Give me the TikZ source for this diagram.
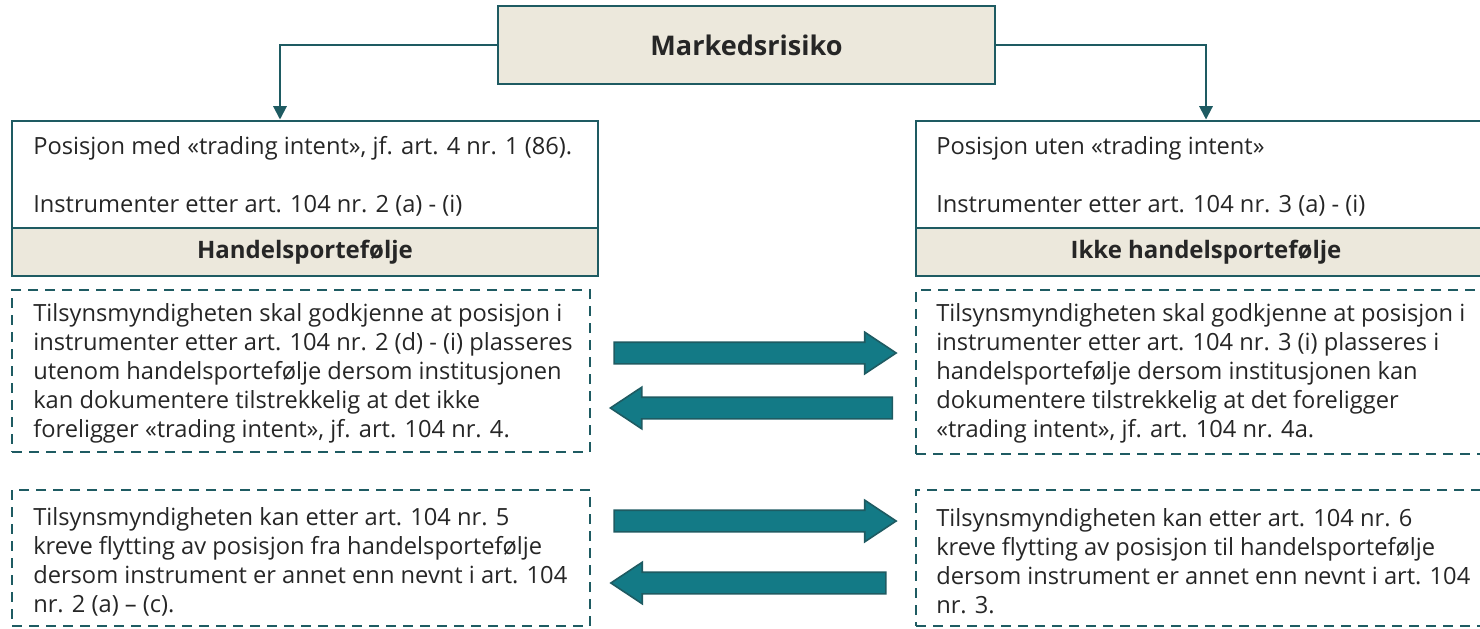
\documentclass[tikz,border=0pt]{standalone}
\usepackage{fontspec}
\setmainfont{Open Sans}
\usetikzlibrary{arrows.meta,shapes.arrows}
\definecolor{tealline}{HTML}{1E5B62}
\definecolor{tealfill}{HTML}{137A86}
\definecolor{paper}{HTML}{ECE8DC}
\definecolor{ink}{HTML}{262626}
\tikzstyle{conn} = [draw=tealline,line width=1.5pt,-{Triangle[width=10pt,length=10pt]}]

\begin{document}
\begin{tikzpicture}
[x=0.75pt,y=-0.75pt,
txt/.style={font=\fontsize{17.75}{21.75}\selectfont,text=ink,inner sep=0pt,align=left,anchor=west},
headbox/.style={shape=rectangle,draw=tealline,line width=1.5pt,fill=paper,text=ink,font=\fontsize{18}{21}\selectfont\bfseries},
plainbox/.style={shape=rectangle,draw=tealline,line width=1.5pt,fill=white},
rulebox/.style={shape=rectangle,draw=tealline,line width=1.8pt,dash pattern=on 7.5pt off 5.25pt},
blockarrow/.style={shape=single arrow,draw=tealline,fill=tealfill,line width=1.2pt,inner xsep=0pt,inner ysep=7.5pt,single arrow head extend=7.5pt,single arrow tip angle=67,minimum height=211.5pt}]

\useasboundingbox (0,0) rectangle (1480,628);

%% boxes
\node (risk) at (746.5,45) [headbox,minimum width=372.75pt,minimum height=58.5pt,font=\fontsize{20.3}{24}\selectfont\bfseries] {Markedsrisiko};

\node (trade) at (305,174) [plainbox,minimum width=439.5pt,minimum height=80.25pt] {};
\node (tradehead) at (305,252) [headbox,minimum width=439.5pt,minimum height=36pt] {Handelsportefølje};
\node (nontrade) at (1206,174) [plainbox,minimum width=435pt,minimum height=80.25pt] {};
\node (nontradehead) at (1206,252) [headbox,minimum width=435pt,minimum height=36pt] {Ikke handelsportefølje};

\node (tradetxt1) at (33,154) [txt,anchor=base west] {Posisjon med «trading intent», jf. art. 4 nr. 1 (86).};
\node (tradetxt2) at (33,212) [txt,anchor=base west] {Instrumenter etter art. 104 nr. 2 (a) - (i)};
\node (nontradetxt1) at (936,154) [txt,anchor=base west] {Posisjon uten «trading intent»};
\node (nontradetxt2) at (936,212) [txt,anchor=base west] {Instrumenter etter art. 104 nr. 3 (a) - (i)};

%% dashed rule boxes
\node (ruleA) at (301,371) [rulebox,minimum width=433.5pt,minimum height=121.5pt] {};
\node (ruleB) at (1206,372) [rulebox,minimum width=435pt,minimum height=123pt] {};
\node (ruleC) at (301,558) [rulebox,minimum width=433.5pt,minimum height=102pt] {};
\node (ruleD) at (1206,558) [rulebox,minimum width=435pt,minimum height=102pt] {};

\node (ruletxtA) at (33,373) [txt] {Tilsynsmyndigheten skal godkjenne at posisjon i\\
instrumenter etter art. 104 nr. 2 (d) - (i) plasseres\\
utenom handelsportefølje dersom institusjonen\\
kan dokumentere tilstrekkelig at det ikke\\
foreligger «trading intent», jf. art. 104 nr. 4.};
\node (ruletxtB) at (936,373) [txt] {Tilsynsmyndigheten skal godkjenne at posisjon i\\
instrumenter etter art. 104 nr. 3 (i) plasseres i\\
handelsportefølje dersom institusjonen kan\\
dokumentere tilstrekkelig at det foreligger\\
«trading intent», jf. art. 104 nr. 4a.};
\node (ruletxtC) at (33,561.5) [txt] {Tilsynsmyndigheten kan etter art. 104 nr. 5\\
kreve flytting av posisjon fra handelsportefølje\\
dersom instrument er annet enn nevnt i art. 104\\
nr. 2 (a) – (c).};
\node (ruletxtD) at (936,561.5) [txt] {Tilsynsmyndigheten kan etter art. 104 nr. 6\\
kreve flytting av posisjon til handelsportefølje\\
dersom instrument er annet enn nevnt i art. 104\\
nr. 3.};

%% block arrows
\node (toright1) at (747,353) [blockarrow] {};
\node (toleft1) at (759.5,408) [blockarrow,shape border rotate=180] {};
\node (toright2) at (747,521) [blockarrow] {};
\node (toleft2) at (756.5,583) [blockarrow,shape border rotate=180,minimum height=206.25pt] {};

%% connectors
\draw[conn] (risk.west) -| ([xshift=-18.75pt]trade.north);
\draw[conn] (risk.east) -| (nontrade.north);

\end{tikzpicture}
\end{document}
